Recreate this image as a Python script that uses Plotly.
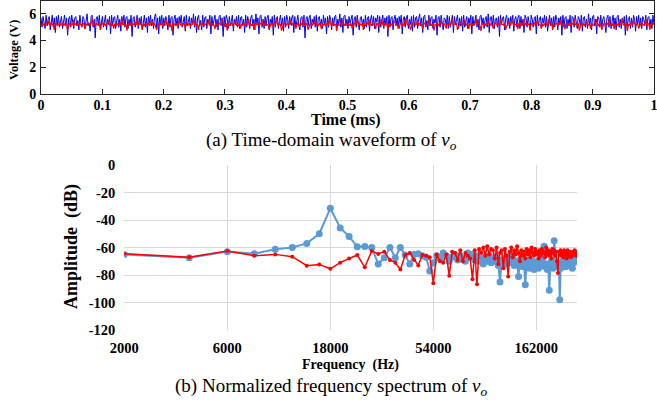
import math
import plotly.graph_objects as go

# ---------------- data: (a) time-domain waveform of v_o ----------------
vo_blue = [
    5.7, 5.0, 5.8, 5.3, 4.9, 5.9, 5.1, 5.6, 5.8, 4.8, 5.5, 5.9, 5.0, 5.7, 4.6, 5.8, 5.2, 5.9, 5.0, 5.6,
    5.8, 4.9, 5.4, 5.9, 5.1, 5.7, 4.4, 5.6, 5.8, 5.0, 5.9, 5.2, 4.9, 5.7, 5.8, 5.1, 5.5, 4.8, 5.9, 5.3,
    5.0, 5.8, 5.6, 4.9, 5.7, 6.0, 5.1, 5.3, 4.7, 5.8, 5.9, 5.0, 5.6, 4.2, 5.7, 5.8, 5.1, 5.9, 4.9, 5.4,
    5.8, 5.0, 5.7, 5.9, 4.8, 5.6, 5.2, 5.8, 4.5, 5.9, 5.1, 5.7, 5.8, 4.9, 5.5, 5.9, 5.0, 5.6, 4.7, 5.8,
    5.3, 5.9, 5.0, 5.7, 5.8, 4.9, 5.6, 5.1, 5.9, 4.3, 5.7, 5.8, 5.0, 5.4, 5.9, 4.9, 5.7, 5.2, 5.8, 4.8,
    5.6, 5.9, 5.0, 5.7, 4.6, 5.8, 5.3, 5.9, 5.1, 5.6, 4.9, 5.8, 6.0, 5.0, 5.7, 4.5, 5.8, 5.2, 5.9, 4.9,
    5.7, 5.1, 5.8, 5.5, 4.8, 5.9, 5.0, 5.7, 5.8, 4.4, 5.6, 5.9, 5.1, 5.7, 4.9, 5.8, 5.3, 5.9, 5.0, 5.6,
    5.8, 4.7, 5.9, 5.1, 5.6, 5.8, 4.9, 5.7, 5.2, 6.0, 5.0, 5.8, 4.6, 5.7, 5.9, 5.1, 5.5, 4.8, 5.9, 5.0,
    5.7, 5.8, 4.9, 5.6, 5.3, 5.9, 4.5, 5.8, 5.1, 5.7, 5.9, 5.0, 5.6, 4.8, 5.8, 5.9, 5.2, 5.7, 4.3, 5.8,
    5.0, 5.9, 5.6, 4.9, 5.8, 5.1, 5.7, 5.9, 4.7, 5.6, 5.2, 5.8, 5.0, 5.9, 4.9, 5.7, 5.8, 5.1, 5.6, 4.6,
    5.9, 5.0, 5.8, 5.4, 4.9, 5.7, 5.9, 5.1, 5.6, 4.8, 6.0, 5.2, 5.7, 4.5, 5.8, 5.9, 5.0, 5.6, 4.9, 5.8,
    5.1, 5.7, 5.9, 4.8, 5.6, 5.3, 5.8, 4.4, 5.9, 5.0, 5.7, 5.8, 4.9, 5.5, 5.9, 5.1, 5.7, 4.7, 5.8, 5.0,
    5.9, 5.6, 4.9, 5.8, 5.2, 5.7, 5.9, 4.6, 5.8, 5.0, 5.6, 5.9, 5.1, 4.8, 5.7, 5.8, 5.0, 5.9, 4.2, 5.6,
    5.8, 5.1, 5.7, 5.9, 4.9, 5.6, 5.3, 5.8, 5.0, 5.9, 4.7, 5.7, 5.8, 5.1, 5.6, 4.9, 5.9, 5.2, 5.7, 4.5,
    5.8, 5.0, 5.9, 5.6, 4.8, 5.7, 5.1, 5.8, 5.9, 4.9, 5.6, 5.2, 6.0, 5.0, 5.7, 4.6, 5.8, 5.9, 5.1, 5.6,
    4.9, 5.8, 5.3, 5.7, 5.9, 4.4, 5.6, 5.8, 5.0, 5.9, 5.2, 4.8, 5.7, 5.8, 5.1, 5.6, 4.9, 5.9, 5.0, 5.7,
    5.8, 4.7, 5.6, 5.9, 5.1, 5.8, 4.9, 5.7, 5.4, 5.9, 4.6, 5.8, 5.0, 5.6, 5.9, 4.9, 5.7, 5.2, 5.8, 4.3,
    5.9, 5.0, 5.7, 5.8, 4.8, 5.6, 5.9, 5.1, 5.7, 4.9, 5.8, 5.3, 5.9, 4.5, 5.6, 5.8, 5.0, 5.7, 5.9, 4.9,
    5.6, 5.2, 5.8, 4.7, 5.9, 5.0, 5.7, 5.8, 4.9, 5.6, 6.0, 5.1, 5.7, 4.6, 5.8, 5.9, 5.0, 5.5, 4.8, 5.9,
    5.1, 5.7, 5.8, 4.9, 5.6, 5.3, 5.9, 4.4, 5.7, 5.8, 5.0, 5.9, 5.2, 4.8, 5.7, 5.6, 5.1, 5.9, 4.9, 5.8,
    5.0, 5.7, 5.9, 4.6, 5.8, 5.2, 5.6, 5.9, 4.9, 5.7, 5.1, 5.8, 4.7, 5.9, 5.0, 5.6, 5.8, 4.9, 5.7, 5.3,
    5.9, 4.5, 5.8, 5.1, 5.7, 5.9, 5.0, 5.6, 4.8, 5.8, 5.9, 5.2, 5.7, 4.9, 5.6, 5.8, 5.0, 6.0, 4.6, 5.7,
    5.8, 5.1, 5.9, 4.9, 5.6, 5.7, 5.0, 5.8, 4.3, 5.9, 5.2, 5.7, 5.8, 4.8, 5.6, 5.9, 5.1, 5.7, 4.9, 5.8,
    5.3, 5.9, 4.7, 5.6, 5.8, 5.0, 5.7, 5.9, 4.9, 5.8, 5.1, 5.6, 4.6, 5.9, 5.7, 5.0, 5.8, 5.2, 4.8, 5.9,
    5.6, 5.0, 5.7, 5.8, 4.5, 5.9, 5.1, 5.6, 5.8, 4.9, 5.7, 5.3, 5.9, 5.0, 5.8, 4.7, 5.6, 5.9, 5.1, 5.7,
    4.9, 5.8, 5.0, 5.9, 5.6, 4.8, 5.7, 5.2, 5.8, 4.4, 5.9, 5.0, 5.7, 5.8, 4.9, 5.6, 5.1, 5.9, 4.6, 5.8,
    5.7, 5.0, 5.9, 5.3, 4.9, 5.8, 5.6, 5.1, 5.9, 4.7, 5.7, 5.8, 5.0, 5.6, 4.9, 6.0, 5.2, 5.7, 4.8, 5.8,
    5.9, 5.1, 5.6, 4.5, 5.8, 5.7, 5.0, 5.9, 4.9, 5.6, 5.8, 5.2, 4.6, 5.7, 5.9, 5.0, 5.8, 4.9, 5.6, 5.9,
    5.1, 5.7, 4.8, 5.8, 5.9, 5.0, 5.6, 4.9, 5.7, 5.3, 5.8, 4.4, 5.9, 5.1, 5.6, 5.8, 4.9, 5.7, 5.0, 5.9,
    5.6, 4.7, 5.8, 5.2, 5.9, 5.0, 5.7, 4.9, 5.8, 5.6, 5.1, 5.9, 4.8, 5.7, 5.8, 5.0, 5.6, 4.9, 5.9, 5.2,
]
vo_red = [
    5.25, 5.15, 5.3, 5.1, 5.2, 5.35, 5.15, 5.25, 5.6, 5.1, 5.3, 5.2, 5.15, 4.8, 5.25, 5.3, 5.1, 5.2, 5.35, 5.15,
    5.2, 5.3, 5.1, 5.25, 5.15, 5.3, 4.75, 5.2, 5.35, 5.1, 5.25, 5.2, 5.55, 5.15, 5.3, 5.1, 5.25, 5.2, 5.3, 5.15,
    5.1, 5.3, 5.2, 4.85, 5.25, 5.15, 5.35, 5.2, 5.1, 5.3, 5.65, 5.15, 5.25, 5.1, 5.3, 5.2, 5.15, 5.35, 4.8, 5.2,
    5.3, 5.15, 5.25, 5.1, 5.2, 5.35, 5.5, 5.15, 5.3, 5.1, 5.25, 4.9, 5.2, 5.3, 5.15, 5.25, 5.1, 5.35, 5.2, 5.6,
    5.15, 5.3, 5.1, 5.25, 4.75, 5.2, 5.3, 5.15, 5.35, 5.1, 5.25, 5.2, 5.3, 5.15, 5.7, 5.1, 5.25, 5.3, 5.2, 4.85,
    5.25, 5.1, 5.3, 5.2, 5.15, 5.35, 5.1, 5.25, 5.55, 5.2, 5.15, 5.3, 5.1, 4.8, 5.25, 5.2, 5.35, 5.15, 5.3, 5.1,
    5.2, 5.3, 5.6, 5.15, 5.25, 5.1, 5.3, 5.2, 4.7, 5.35, 5.15, 5.25, 5.1, 5.3, 5.2, 5.5, 5.15, 5.25, 5.1, 5.3,
    5.2, 4.9, 5.25, 5.35, 5.15, 5.3, 5.1, 5.2, 5.25, 5.65, 5.15, 5.3, 5.1, 5.2, 4.8, 5.35, 5.25, 5.15, 5.3, 5.1,
    5.25, 5.2, 5.3, 5.15, 5.55, 5.1, 5.25, 5.3, 5.2, 5.15, 4.85, 5.3, 5.1, 5.25, 5.35, 5.2, 5.15, 5.6, 5.3, 5.1,
    5.2, 5.25, 4.75, 5.3, 5.15, 5.2, 5.35, 5.1, 5.25, 5.3, 5.5, 5.15, 5.2, 5.1, 5.3, 4.9, 5.25, 5.15, 5.35, 5.2,
    5.1, 5.3, 5.2, 5.6, 5.15, 5.25, 5.1, 5.3, 4.8, 5.2, 5.35, 5.15, 5.25, 5.1, 5.3, 5.2, 5.55, 5.15, 5.25, 5.1,
    5.3, 5.2, 5.15, 4.85, 5.25, 5.35, 5.1, 5.2, 5.3, 5.15, 5.65, 5.25, 5.1, 5.3, 5.2, 4.75, 5.15, 5.25, 5.35, 5.1,
    5.2, 5.3, 5.15, 5.25, 5.5, 5.1, 5.3, 5.2, 5.15, 4.9, 5.25, 5.35, 5.1, 5.2, 5.3, 5.15, 5.6, 5.25, 5.1, 5.3,
    5.2, 4.8, 5.15, 5.3, 5.25, 5.1, 5.35, 5.2, 5.55, 5.15, 5.25, 5.1, 5.3, 5.2, 4.85, 5.25, 5.15, 5.3, 5.1, 5.2,
    5.35, 5.15, 5.6, 5.25, 5.1, 5.3, 5.2, 5.15, 5.25, 4.7, 5.3, 5.1, 5.2, 5.35, 5.15, 5.5, 5.25, 5.1, 5.3, 5.2,
    5.15, 5.25, 5.1, 5.3, 4.9, 5.2, 5.35, 5.15, 5.25, 5.65, 5.1, 5.3, 5.2, 5.15, 5.25, 4.8, 5.3, 5.1, 5.2, 5.35,
    5.15, 5.55, 5.25, 5.1, 5.3, 5.2, 5.15, 4.85, 5.3, 5.25, 5.1, 5.2, 5.35, 5.6, 5.15, 5.25, 5.1, 5.3, 5.2, 4.75,
    5.25, 5.15, 5.3, 5.1, 5.2, 5.5, 5.35, 5.15, 5.25, 5.1, 4.9, 5.3, 5.2, 5.15, 5.25, 5.1, 5.65, 5.3, 5.2, 5.15,
    5.25, 4.8, 5.1, 5.3, 5.2, 5.35, 5.15, 5.25, 5.55, 5.1, 5.3, 5.2, 5.15, 4.85, 5.25, 5.3, 5.1, 5.2, 5.35, 5.6,
    5.15, 5.25, 5.1, 5.3, 4.75, 5.2, 5.15, 5.35, 5.25, 5.1, 5.3, 5.5, 5.2, 5.15, 5.25, 5.1, 4.9, 5.3, 5.2, 5.25,
    5.1, 5.35, 5.6, 5.15, 5.25, 5.2, 5.3, 4.8, 5.1, 5.25, 5.35, 5.15, 5.2, 5.3, 5.55, 5.1, 5.25, 5.2, 4.85, 5.3,
    5.15, 5.25, 5.1, 5.3, 5.2, 5.65, 5.15, 5.25, 5.35, 5.1, 4.7, 5.3, 5.2, 5.15, 5.25, 5.1, 5.3, 5.5, 5.2, 5.15,
    5.3, 5.1, 4.9, 5.25, 5.35, 5.2, 5.15, 5.3, 5.1, 5.6, 5.25, 5.2, 5.15, 5.3, 4.8, 5.1, 5.25, 5.35, 5.2, 5.15,
    5.55, 5.3, 5.1, 5.25, 5.2, 5.15, 4.85, 5.3, 5.35, 5.1, 5.25, 5.2, 5.65, 5.15, 5.3, 5.1, 5.2, 5.25, 4.75, 5.3,
    5.2, 5.15, 5.35, 5.1, 5.25, 5.5, 5.3, 5.2, 5.15, 4.9, 5.25, 5.1, 5.3, 5.35, 5.2, 5.15, 5.6, 5.25, 5.1, 5.3,
    4.8, 5.2, 5.15, 5.25, 5.3, 5.1, 5.35, 5.2, 5.55, 5.15, 5.25, 5.1, 4.85, 5.3, 5.2, 5.15, 5.25, 5.35, 5.1, 5.3,
    5.2, 5.65, 5.15, 5.25, 5.1, 5.3, 4.75, 5.2, 5.35, 5.15, 5.25, 5.1, 5.3, 5.5, 5.2, 5.15, 5.25, 4.9, 5.3, 5.1,
    5.2, 5.35, 5.15, 5.6, 5.25, 5.1, 5.3, 5.2, 4.8, 5.15, 5.25, 5.35, 5.1, 5.3, 5.2, 5.55, 5.15, 5.25, 5.1, 5.3,
    4.85, 5.2, 5.25, 5.15, 5.3, 5.1, 5.35, 5.2, 5.65, 5.15, 5.25, 5.1, 5.3, 4.7, 5.2, 5.15, 5.25, 5.35, 5.1, 5.5,
    5.3, 5.2, 5.15, 5.25, 4.9, 5.1, 5.3, 5.35, 5.2, 5.15, 5.25, 5.6, 5.1, 5.3, 5.2, 4.8, 5.25, 5.15, 5.3, 5.2,
]
time_blue_ms = [i / (len(vo_blue) - 1) for i in range(len(vo_blue))]
time_red_ms = [i / (len(vo_red) - 1) for i in range(len(vo_red))]
time_ticks = [0, 0.1, 0.2, 0.3, 0.4, 0.5, 0.6, 0.7, 0.8, 0.9, 1]
time_tick_labels = ["0", "0.1", "0.2", "0.3", "0.4", "0.5", "0.6", "0.7", "0.8", "0.9", "1"]
volt_ticks = [0, 2, 4, 6]
volt_tick_labels = ["0", "2", "4", "6"]

# ---------------- data: (b) normalized frequency spectrum ----------------
freq_hz = list(range(2000, 250001, 2000))  # harmonics of 2 kHz
amp_blue_db = [
    -65, -67.5, -63, -64.5, -61.3, -60, -57, -50, -31.5, -45.8,
    -52, -59.5, -59.2, -60, -72, -67.5, -60, -67.5, -60, -65.5,
    -72, -65, -64.5, -66, -67, -77, -71, -66, -68, -64,
    -66, -70, -67, -65, -69, -66, -68, -70, -64, -67,
    -65, -69, -66, -70, -68, -72, -67, -70, -66, -71,
    -68, -70, -67, -73, -85, -69, -71, -68, -72, -70,
    -66, -71, -68, -73, -70, -72, -81, -69, -71, -74,
    -70, -87, -72, -69, -75, -71, -73, -70, -76, -72,
    -74, -70, -75, -72, -66, -73, -71, -59, -74, -72,
    -76, -73, -91, -74, -70, -72, -75, -55, -70, -73,
    -71, -74, -72, -98, -75, -71, -73, -69, -72, -66,
    -74, -70, -72, -68, -71, -69, -73, -70, -75, -68,
    -71, -66, -69, -67, -64,
]
amp_red_db = [
    -64.5, -67, -62.5, -66, -65, -66.7, -73.2, -72.3, -75.5, -71,
    -68, -65.5, -74.4, -62.5, -64.7, -63, -69, -71, -76, -65.5,
    -64, -69, -73, -65.5, -66, -67, -86, -65, -70, -71,
    -65, -80.5, -63, -64, -69, -62, -70, -64, -66, -68,
    -83, -62, -86.8, -61, -64, -60, -66, -59, -65, -61,
    -62, -68, -60, -72, -64, -62, -75, -61, -66, -81,
    -63, -60, -67, -62, -65, -59, -64, -70, -62, -66,
    -63, -68, -61, -65, -62, -67, -60, -64, -66, -61,
    -65, -63, -68, -62, -66, -61, -64, -63, -67, -60,
    -65, -62, -66, -63, -68, -61, -64, -62, -66, -63,
    -70, -78.5, -63, -65, -62, -66, -63, -67, -62, -65,
    -64, -68, -62, -66, -64, -63, -67, -64, -66, -63,
    -65, -62, -64, -66, -64,
]
freq_ticks = [2000, 6000, 18000, 54000, 162000]
freq_tick_labels = ["2000", "6000", "18000", "54000", "162000"]
amp_ticks = [0, -20, -40, -60, -80, -100, -120]
amp_tick_labels = ["0", "-20", "-40", "-60", "-80", "-100", "-120"]

# ---------------- figure ----------------
W, H = 657, 403
SERIF = "Liberation Serif, Times New Roman, serif"
AX = "#262626"
GRID = "#D9D9D9"

def px_x(x):
    return x / W

def px_y(y):
    return 1 - y / H

fig = go.Figure()
fig.add_trace(go.Scatter(x=time_blue_ms, y=vo_blue, mode="lines",
                         line=dict(color="#0000FF", width=1), xaxis="x", yaxis="y", hoverinfo="skip"))
fig.add_trace(go.Scatter(x=time_red_ms, y=vo_red, mode="lines",
                         line=dict(color="#FF0000", width=1.2), xaxis="x", yaxis="y", hoverinfo="skip"))
fig.add_trace(go.Scatter(x=freq_hz, y=amp_blue_db, mode="lines+markers",
                         line=dict(color="#5B9BD5", width=2),
                         marker=dict(size=7, color="#5B9BD5"), xaxis="x2", yaxis="y2"))
fig.add_trace(go.Scatter(x=freq_hz, y=amp_red_db, mode="lines+markers",
                         line=dict(color="#FF0000", width=1.5),
                         marker=dict(size=4, color="#FF0000"), xaxis="x2", yaxis="y2"))

tickfont_top = dict(family=SERIF, size=14, color="black", weight="bold")
tickfont_bot = dict(family=SERIF, size=14.5, color="black", weight="bold")

fig.update_layout(
    width=W, height=H,
    margin=dict(l=0, r=0, t=0, b=0, pad=0, autoexpand=False),
    paper_bgcolor="white", plot_bgcolor="white",
    showlegend=False,
    xaxis=dict(domain=[px_x(41), px_x(654)], range=[0, 1], anchor="y", automargin=False,
               tickvals=time_ticks, ticktext=time_tick_labels,
               ticks="inside", ticklen=5, tickcolor=AX, tickwidth=1,
               showline=True, linecolor=AX, linewidth=1, mirror="ticks",
               showgrid=False, zeroline=False, tickfont=tickfont_top,
               ticklabelstandoff=-2, ticklabeloverflow="allow"),
    yaxis=dict(domain=[px_y(94), px_y(0.5)], range=[0, 7], anchor="x", automargin=False,
               tickvals=volt_ticks, ticktext=volt_tick_labels,
               ticks="inside", ticklen=5, tickcolor=AX, tickwidth=1,
               showline=True, linecolor=AX, linewidth=1, mirror="ticks",
               showgrid=False, zeroline=False, tickfont=tickfont_top,
               ticklabelstandoff=1, ticklabeloverflow="allow"),
    xaxis2=dict(domain=[px_x(124.3), px_x(577)], type="log", automargin=False,
                range=[math.log10(2000), math.log10(250000)], anchor="y2",
                tickvals=freq_ticks, ticktext=freq_tick_labels,
                ticks="", showline=False, zeroline=False,
                showgrid=True, gridcolor=GRID, gridwidth=1.3,
                tickfont=tickfont_bot, ticklabelstandoff=7, ticklabeloverflow="allow"),
    yaxis2=dict(domain=[px_y(330), px_y(165)], range=[-120, 0], anchor="x2", automargin=False,
                tickvals=amp_ticks, ticktext=amp_tick_labels,
                ticks="", showline=False, zeroline=False,
                showgrid=True, gridcolor=GRID, gridwidth=1.3,
                tickfont=tickfont_bot, ticklabelstandoff=8, ticklabeloverflow="allow"),
)

annotations = [
    dict(text="<b>Voltage (V)</b>", x=px_x(14), y=px_y(50), textangle=-90,
         font=dict(family=SERIF, size=12.5, color="black")),
    dict(text="<b>Time (ms)</b>", x=px_x(345), y=px_y(119.5),
         font=dict(family=SERIF, size=16, color="black")),
    dict(text="(a) Time-domain waveform of <i>v</i><sub><i>o</i></sub>", x=px_x(331), y=px_y(141.5),
         font=dict(family=SERIF, size=19, color="black")),
    dict(text="<b>Amplitude  (dB)</b>", x=px_x(71), y=px_y(247), textangle=-90,
         font=dict(family=SERIF, size=18, color="black")),
    dict(text="<b>Frequency  (Hz)</b>", x=px_x(350), y=px_y(365),
         font=dict(family=SERIF, size=14, color="black")),
    dict(text="(b) Normalized frequency spectrum of <i>v</i><sub><i>o</i></sub>", x=px_x(331), y=px_y(387),
         font=dict(family=SERIF, size=19, color="black")),
]
for a in annotations:
    a.update(xref="paper", yref="paper", showarrow=False, xanchor="center", yanchor="middle")
fig.update_layout(annotations=annotations)

fig.write_html("out.html")
